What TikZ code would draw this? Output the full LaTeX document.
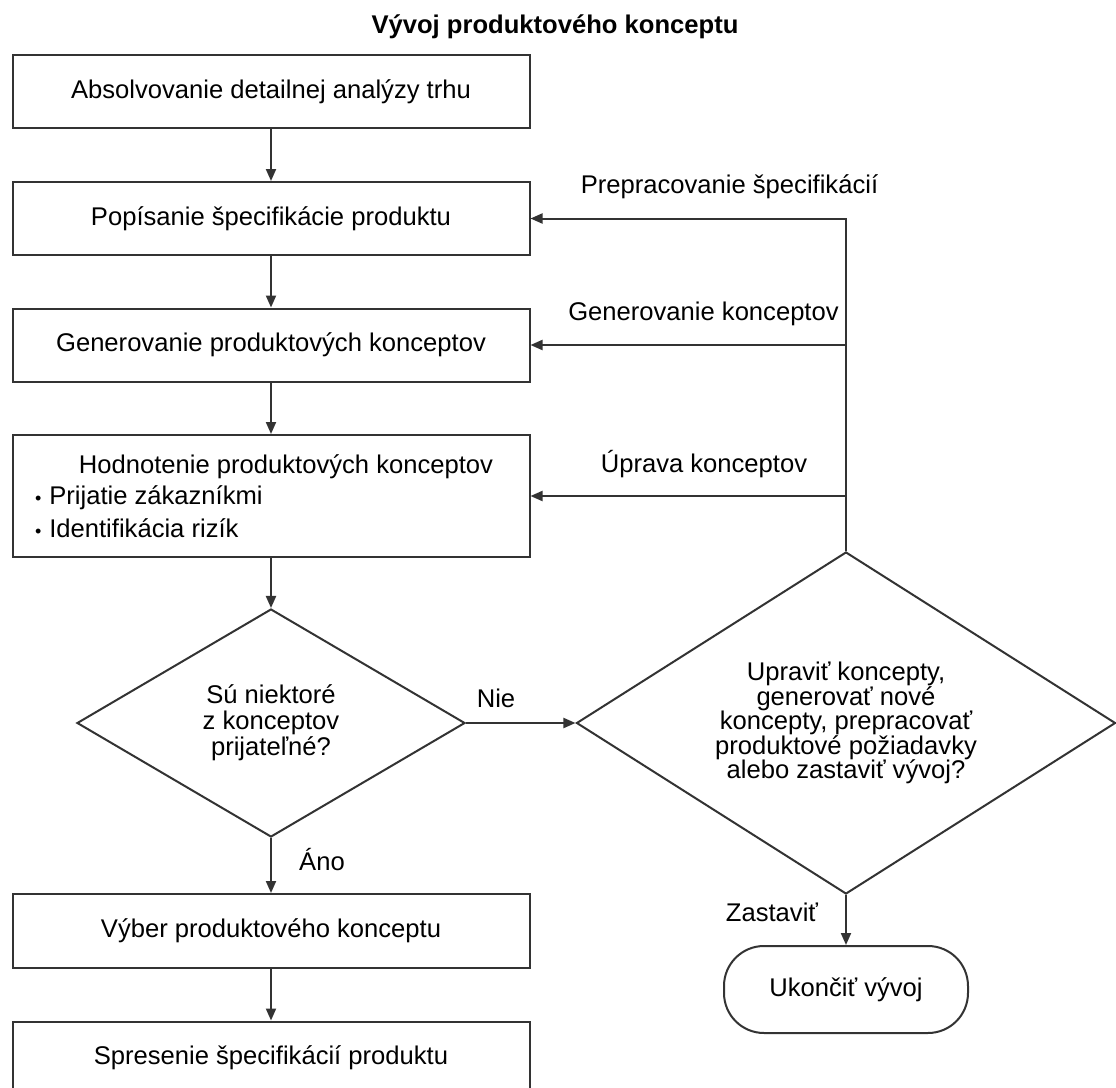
\documentclass[tikz,border=0pt]{standalone}
\usepackage{fontspec}
\setmainfont{Liberation Sans}
\usetikzlibrary{shapes.geometric,arrows.meta,positioning}
\definecolor{linka}{HTML}{333333}

\begin{document}
\begin{tikzpicture}[x=0.5pt, y=-0.5pt, line width=1pt,
    font=\fontsize{12.8}{15}\selectfont,
    box/.style={draw=linka, rectangle, minimum width=258.5pt, minimum height=36.5pt, inner sep=0pt},
    rozh/.style={draw=linka, diamond, inner sep=0pt, align=center, font=\fontsize{12.8}{13}\selectfont},
    sipka/.style={draw=linka, -{Triangle[length=6pt,width=5pt]}}]
	\useasboundingbox (0,0) rectangle (1116,1088);

	% Nadpis
	\node (nadpis) at (555,27) {\bfseries Vývoj produktového konceptu};

	% Levá kolona
	\node[box] (analyza) at (271,91.5) {Absolvovanie detailnej analýzy trhu};
	\node[box] (spec) at (271,218.5) {Popísanie špecifikácie produktu};
	\node[box] (gen) at (271,345) {Generovanie produktových konceptov};
	\node[box, minimum height=61pt] (hodn) at (271,496) {};
	\node (hodnT) at (286,467) {Hodnotenie produktových konceptov};
	\node[anchor=west, inner sep=0pt] (prij) at (34,498) {{\fontsize{9}{9}\selectfont•}\hspace{4pt}Prijatie zákazníkmi};
	\node[anchor=west, inner sep=0pt] (ident) at (34,528) {{\fontsize{9}{9}\selectfont•}\hspace{4pt}Identifikácia rizík};
	\node[rozh, minimum width=194pt, minimum height=114pt] (prijatelne) at (271,723)
		{Sú niektoré\\z konceptov\\prijateľné?};
	\node[box, minimum height=37pt] (vyber) at (271,931) {Výber produktového konceptu};
	\node[box] (spresnenie) at (271,1058) {Spresenie špecifikácií produktu};

	% Pravá strana
	\node[rozh, aspect=1.576, minimum width=269.5pt, minimum height=171pt, font=\fontsize{12.8}{12.2}\selectfont] (upravit) at (846,723)
		{Upraviť koncepty,\\generovať nové\\koncepty, prepracovať\\produktové požiadavky\\alebo zastaviť vývoj?};
	\node[draw=linka, rectangle, rounded corners=20pt, minimum width=122pt, minimum height=43.5pt] (koniec) at (846,989.5) {Ukončiť vývoj};

	% Šípky
	\draw[sipka] (analyza) -- (spec);
	\draw[sipka] (spec) -- (gen);
	\draw[sipka] (gen) -- (hodn);
	\draw[sipka] (hodn) -- (prijatelne);
	\draw[sipka] (prijatelne) -- (upravit);
	\draw[sipka] (prijatelne) -- (vyber);
	\draw[sipka] (vyber) -- (spresnenie);
	\draw[sipka] (upravit) -- (koniec);
	\draw[sipka] (upravit.north) |- (spec.east);
	\draw[sipka] (upravit.north) |- (gen.east);
	\draw[sipka] (upravit.north) |- (hodn.east);

	% Popisy
	\node (lNie) at (496,698) {Nie};
	\node (lAno) at (322,860) {Áno};
	\node (lZast) at (772,912) {Zastaviť};
	\node (lPrep) at (729.5,187) {Prepracovanie špecifikácií};
	\node (lGen) at (703.5,314) {Generovanie konceptov};
	\node (lUpr) at (704,464) {Úprava konceptov};
\end{tikzpicture}
\end{document}
